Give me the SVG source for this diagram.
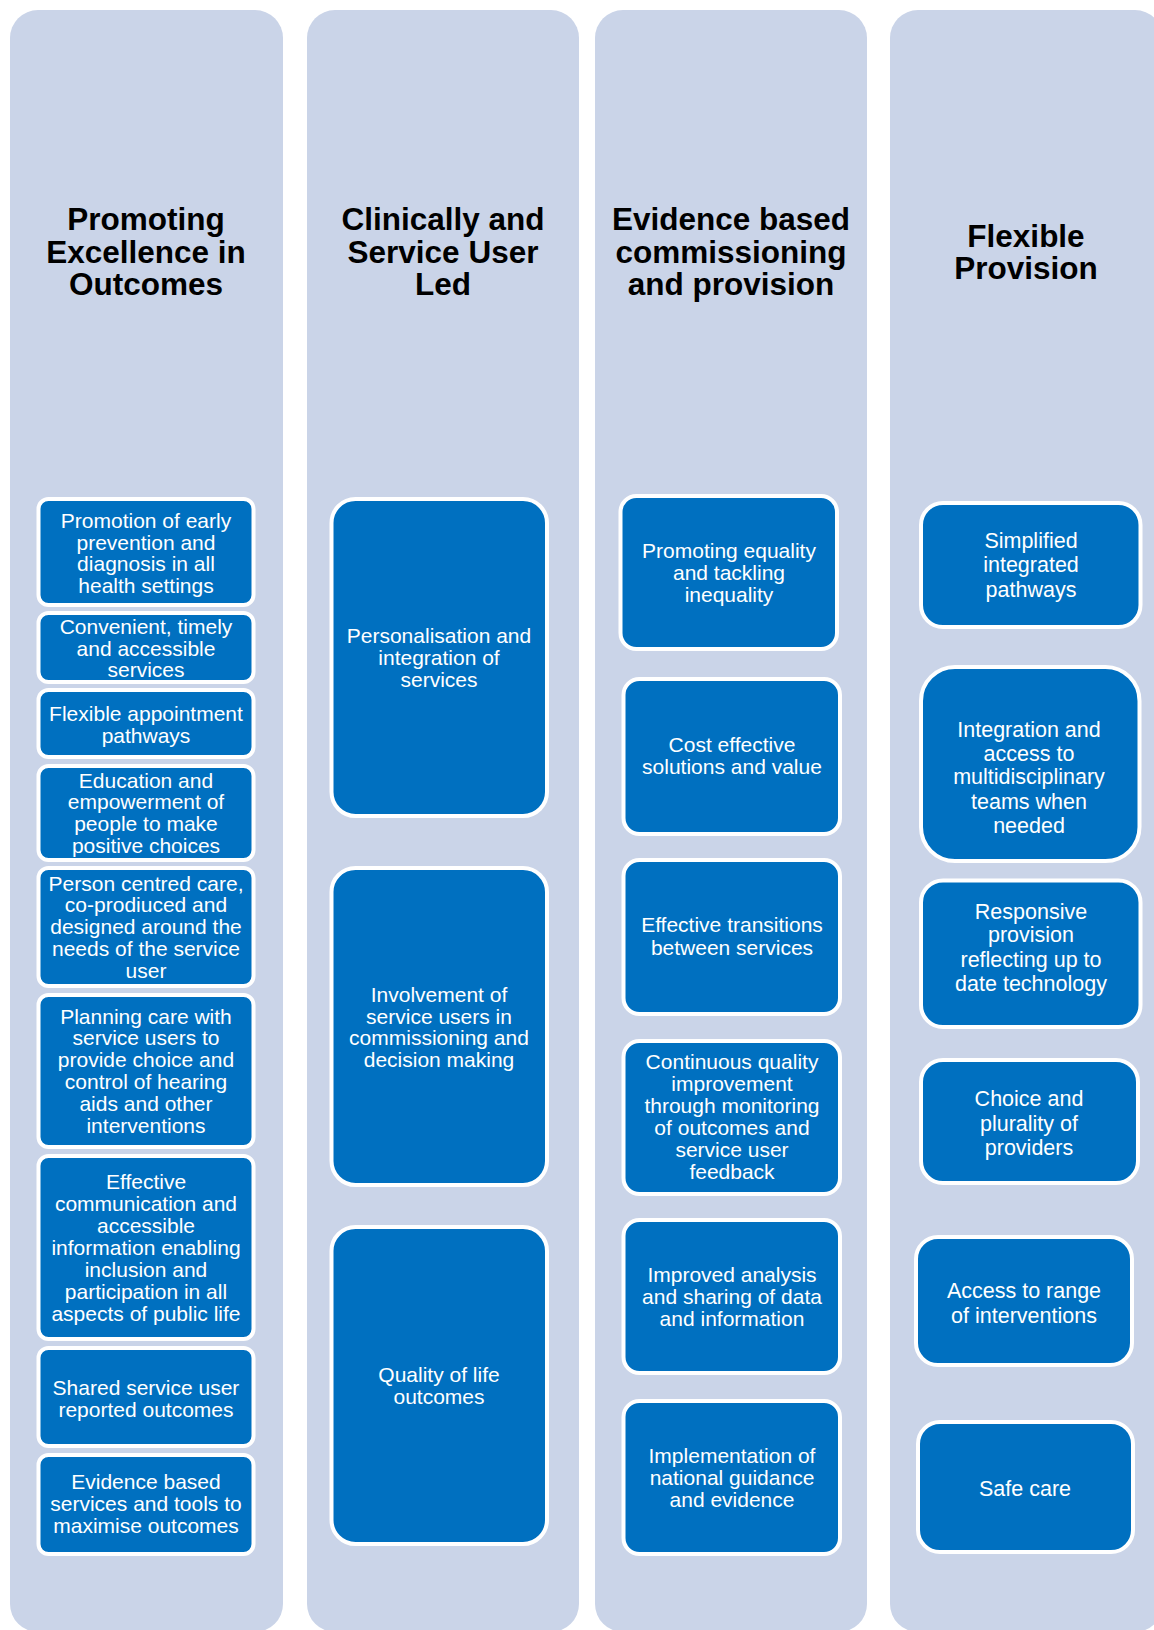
<svg xmlns="http://www.w3.org/2000/svg" width="1154" height="1630" viewBox="0 0 1154 1630">
<style>
.col{fill:#CAD4E8}
.box{fill:#0070C0;stroke:#FFFFFF;stroke-width:4}
.hd{font-family:"Liberation Sans",Arial,sans-serif;font-weight:bold;font-size:31.5px;fill:#000000;text-anchor:middle}
.tx{font-family:"Liberation Sans",Arial,sans-serif;font-size:21px;fill:#FFFFFF;text-anchor:middle}
.tx4{font-family:"Liberation Sans",Arial,sans-serif;font-size:21.5px;fill:#FFFFFF;text-anchor:middle}
</style>
<rect width="1154" height="1630" fill="#FFFFFF"/>
<g id="columns">
<g id="col1"><rect class="col" x="10" y="10" width="273" height="1622" rx="28"/>
<text class="hd"><tspan x="146" y="230">Promoting</tspan><tspan x="146" y="263">Excellence in</tspan><tspan x="146" y="295">Outcomes</tspan></text></g>
<g id="col2"><rect class="col" x="307" y="10" width="272" height="1622" rx="28"/>
<text class="hd"><tspan x="443" y="230">Clinically and</tspan><tspan x="443" y="263">Service User</tspan><tspan x="443" y="295">Led</tspan></text></g>
<g id="col3"><rect class="col" x="595" y="10" width="272" height="1622" rx="28"/>
<text class="hd"><tspan x="731" y="230">Evidence based</tspan><tspan x="731" y="263">commissioning</tspan><tspan x="731" y="295">and provision</tspan></text></g>
<g id="col4"><rect class="col" x="890" y="10" width="273" height="1622" rx="28"/>
<text class="hd"><tspan x="1026" y="247">Flexible</tspan><tspan x="1026" y="279">Provision</tspan></text></g>
</g>
<g id="connectors"></g>
<g id="c1b1"><rect class="box" x="38.5" y="499" width="215" height="106" rx="10"/>
<text class="tx"><tspan x="146" y="527.5">Promotion of early</tspan><tspan x="146" y="549.5">prevention and</tspan><tspan x="146" y="571">diagnosis in all</tspan><tspan x="146" y="592.5">health settings</tspan></text></g>
<g id="c1b2"><rect class="box" x="38.5" y="613" width="215" height="69" rx="10"/>
<text class="tx"><tspan x="146" y="633.5">Convenient, timely</tspan><tspan x="146" y="655.5">and accessible</tspan><tspan x="146" y="677">services</tspan></text></g>
<g id="c1b3"><rect class="box" x="38.5" y="690" width="215" height="67" rx="10"/>
<text class="tx"><tspan x="146" y="720.5">Flexible appointment</tspan><tspan x="146" y="742.5">pathways</tspan></text></g>
<g id="c1b4"><rect class="box" x="38.5" y="766" width="215" height="94" rx="10"/>
<text class="tx"><tspan x="146" y="787.5">Education and</tspan><tspan x="146" y="809">empowerment of</tspan><tspan x="146" y="830.5">people to make</tspan><tspan x="146" y="852.5">positive choices</tspan></text></g>
<g id="c1b5"><rect class="box" x="38.5" y="868" width="215" height="118" rx="10"/>
<text class="tx"><tspan x="146" y="890.5">Person centred care,</tspan><tspan x="146" y="912">co-prodiuced and</tspan><tspan x="146" y="933.5">designed around the</tspan><tspan x="146" y="955.5">needs of the service</tspan><tspan x="146" y="978">user</tspan></text></g>
<g id="c1b6"><rect class="box" x="38.5" y="995" width="215" height="152" rx="10"/>
<text class="tx"><tspan x="146" y="1023.5">Planning care with</tspan><tspan x="146" y="1045">service users to</tspan><tspan x="146" y="1066.5">provide choice and</tspan><tspan x="146" y="1088.5">control of hearing</tspan><tspan x="146" y="1111">aids and other</tspan><tspan x="146" y="1133">interventions</tspan></text></g>
<g id="c1b7"><rect class="box" x="38.5" y="1156" width="215" height="183" rx="10"/>
<text class="tx"><tspan x="146" y="1188.5">Effective</tspan><tspan x="146" y="1210.5">communication and</tspan><tspan x="146" y="1233">accessible</tspan><tspan x="146" y="1255">information enabling</tspan><tspan x="146" y="1276.5">inclusion and</tspan><tspan x="146" y="1298.5">participation in all</tspan><tspan x="146" y="1320.5">aspects of public life</tspan></text></g>
<g id="c1b8"><rect class="box" x="38.5" y="1348" width="215" height="98" rx="10"/>
<text class="tx"><tspan x="146" y="1394.5">Shared service user</tspan><tspan x="146" y="1416.5">reported outcomes</tspan></text></g>
<g id="c1b9"><rect class="box" x="38.5" y="1455" width="215" height="99" rx="10"/>
<text class="tx"><tspan x="146" y="1489">Evidence based</tspan><tspan x="146" y="1510.5">services and tools to</tspan><tspan x="146" y="1532.5">maximise outcomes</tspan></text></g>
<g id="c2b1"><rect class="box" x="331.5" y="499" width="215.5" height="317" rx="24"/>
<text class="tx"><tspan x="439" y="642.5">Personalisation and</tspan><tspan x="439" y="664.5">integration of</tspan><tspan x="439" y="686.5">services</tspan></text></g>
<g id="c2b2"><rect class="box" x="331.5" y="868" width="215.5" height="317" rx="24"/>
<text class="tx"><tspan x="439" y="1001.5">Involvement of</tspan><tspan x="439" y="1023.5">service users in</tspan><tspan x="439" y="1045">commissioning and</tspan><tspan x="439" y="1066.5">decision making</tspan></text></g>
<g id="c2b3"><rect class="box" x="331.5" y="1227" width="215.5" height="317" rx="24"/>
<text class="tx"><tspan x="439" y="1381.5">Quality of life</tspan><tspan x="439" y="1403.5">outcomes</tspan></text></g>
<g id="c3b1"><rect class="box" x="620.5" y="496" width="216.5" height="153" rx="16"/>
<text class="tx"><tspan x="729" y="557.5">Promoting equality</tspan><tspan x="729" y="579.5">and tackling</tspan><tspan x="729" y="601.5">inequality</tspan></text></g>
<g id="c3b2"><rect class="box" x="623.5" y="679" width="216.5" height="155" rx="16"/>
<text class="tx"><tspan x="732" y="751.5">Cost effective</tspan><tspan x="732" y="773.5">solutions and value</tspan></text></g>
<g id="c3b3"><rect class="box" x="623.5" y="860" width="216.5" height="154" rx="16"/>
<text class="tx"><tspan x="732" y="931.5">Effective transitions</tspan><tspan x="732" y="954.5">between services</tspan></text></g>
<g id="c3b4"><rect class="box" x="623.5" y="1041" width="216.5" height="153" rx="16"/>
<text class="tx"><tspan x="732" y="1068.5">Continuous quality</tspan><tspan x="732" y="1090.5">improvement</tspan><tspan x="732" y="1112.5">through monitoring</tspan><tspan x="732" y="1134.5">of outcomes and</tspan><tspan x="732" y="1156.5">service user</tspan><tspan x="732" y="1178.5">feedback</tspan></text></g>
<g id="c3b5"><rect class="box" x="623.5" y="1220" width="216.5" height="153" rx="16"/>
<text class="tx"><tspan x="732" y="1282">Improved analysis</tspan><tspan x="732" y="1303.5">and sharing of data</tspan><tspan x="732" y="1325.5">and information</tspan></text></g>
<g id="c3b6"><rect class="box" x="623.5" y="1401" width="216.5" height="153" rx="16"/>
<text class="tx"><tspan x="732" y="1463">Implementation of</tspan><tspan x="732" y="1484.5">national guidance</tspan><tspan x="732" y="1506.5">and evidence</tspan></text></g>
<g id="c4b1"><rect class="box" x="921" y="503" width="219.5" height="124" rx="22"/>
<text class="tx4"><tspan x="1031" y="548">Simplified</tspan><tspan x="1031" y="572">integrated</tspan><tspan x="1031" y="597">pathways</tspan></text></g>
<g id="c4b2"><rect class="box" x="921" y="667" width="218.5" height="194" rx="34"/>
<text class="tx4"><tspan x="1029" y="736.5">Integration and</tspan><tspan x="1029" y="760.5">access to</tspan><tspan x="1029" y="784">multidisciplinary</tspan><tspan x="1029" y="809">teams when</tspan><tspan x="1029" y="833">needed</tspan></text></g>
<g id="c4b3"><rect class="box" x="921" y="880.5" width="219.5" height="146.5" rx="22"/>
<text class="tx4"><tspan x="1031" y="918.5">Responsive</tspan><tspan x="1031" y="942">provision</tspan><tspan x="1031" y="967">reflecting up to</tspan><tspan x="1031" y="991">date technology</tspan></text></g>
<g id="c4b4"><rect class="box" x="921" y="1060" width="217" height="123" rx="22"/>
<text class="tx4"><tspan x="1029" y="1105.5">Choice and</tspan><tspan x="1029" y="1130.5">plurality of</tspan><tspan x="1029" y="1154.5">providers</tspan></text></g>
<g id="c4b5"><rect class="box" x="916" y="1237" width="216" height="128" rx="22"/>
<text class="tx4"><tspan x="1024" y="1297.5">Access to range</tspan><tspan x="1024" y="1322.5">of interventions</tspan></text></g>
<g id="c4b6"><rect class="box" x="918" y="1422" width="215" height="130" rx="22"/>
<text class="tx4"><tspan x="1025" y="1495.5">Safe care</tspan></text></g>
</svg>
